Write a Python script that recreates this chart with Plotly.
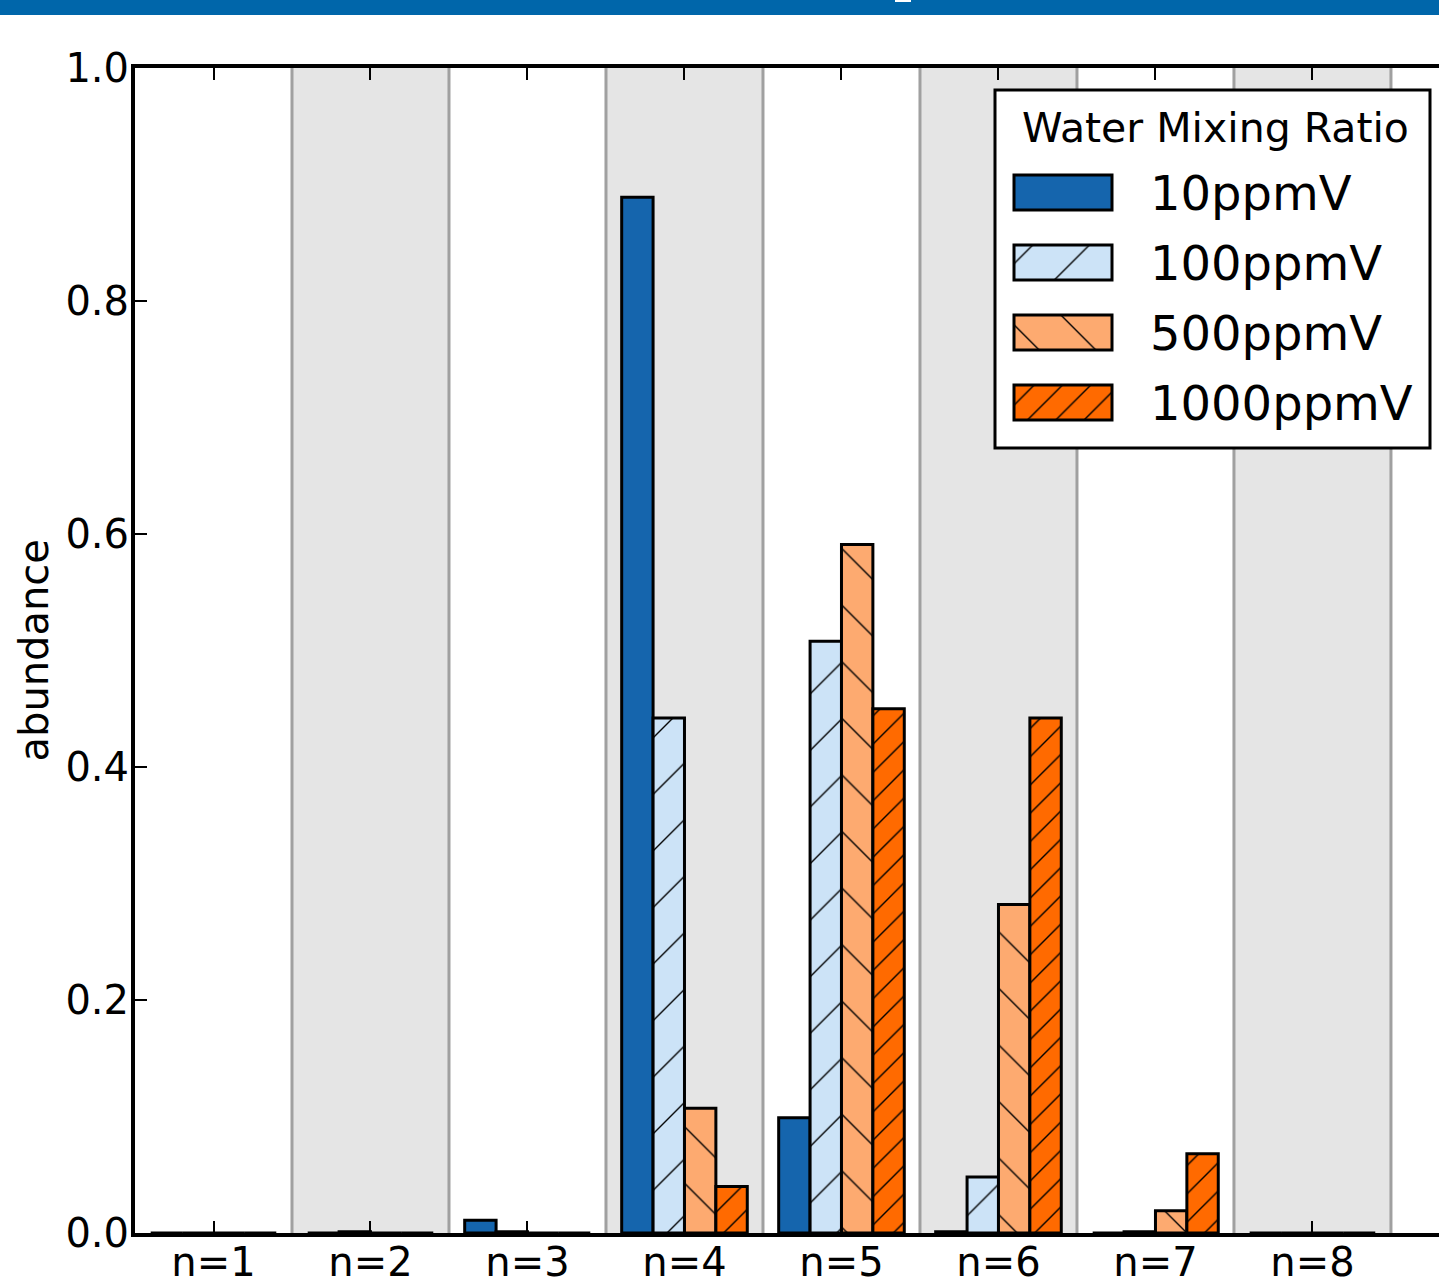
import plotly.graph_objects as go

categories = ["n=1", "n=2", "n=3", "n=4", "n=5", "n=6", "n=7", "n=8"]
series_names = ["10ppmV", "100ppmV", "500ppmV", "1000ppmV"]
v10 = [0.0, 0.0, 0.011, 0.889, 0.099, 0.001, 0.0, 0.0]
v100 = [0.0, 0.001, 0.001, 0.442, 0.508, 0.048, 0.001, 0.0]
v500 = [0.0, 0.0, 0.0, 0.107, 0.591, 0.282, 0.019, 0.0]
v1000 = [0.0, 0.0, 0.0, 0.040, 0.450, 0.442, 0.068, 0.0]
y_ticks = [0.0, 0.2, 0.4, 0.6, 0.8, 1.0]
legend_title = "Water Mixing Ratio"
y_title = "abundance"

values = [v10, v100, v500, v1000]
colors = ["#1565ad", "#cce3f7", "#fdaa70", "#ff6a00"]
patterns = [
    dict(shape=""),
    dict(shape="/", size=40, solidity=0.035, fgcolor="black", fgopacity=1),
    dict(shape="\\", size=40, solidity=0.035, fgcolor="black", fgopacity=1),
    dict(shape="/", size=20, solidity=0.07, fgcolor="black", fgopacity=1),
]

# Pixel geometry of the page
W, H = 1439, 1287
L, R, T, B = 135, 0, 68, 54
PW = W - L - R
PH = H - T - B

def px(x):
    return (x - L) / PW

def py(y):
    return (H - B - y) / PH

fig = go.Figure()
for name, vals, col, pat in zip(series_names, values, colors, patterns):
    fig.add_trace(go.Bar(
        x=categories, y=vals, name=name,
        marker=dict(color=col, line=dict(color="black", width=3), pattern=pat),
        showlegend=False,
    ))

# Custom legend patches drawn on an overlay axis expressed in pixels
leg_x0, leg_len, leg_h = 1014, 98, 35
leg_centers = [192.5, 262.5, 332.5, 402.5]
for name, col, pat, cy in zip(series_names, colors, patterns, leg_centers):
    fig.add_trace(go.Bar(
        x=[leg_len], y=[cy], base=[leg_x0], orientation="h",
        width=leg_h, offset=-leg_h / 2,
        marker=dict(color=col, line=dict(color="black", width=3), pattern=pat),
        xaxis="x2", yaxis="y2", showlegend=False, hoverinfo="skip",
    ))

n = len(categories)
x_range = [-0.5, 7.806]

shapes = []
# alternating background bands
for i in range(n):
    if i % 2 == 1:
        shapes.append(dict(type="rect", xref="x", yref="paper", x0=i - 0.5, x1=i + 0.5,
                           y0=0, y1=1, fillcolor="#e5e5e5", line=dict(width=0), layer="below"))
for i in range(n):
    shapes.append(dict(type="line", xref="x", yref="paper", x0=i + 0.5, x1=i + 0.5,
                       y0=0, y1=1, line=dict(color="#a0a0a0", width=3), layer="below"))
# legend box
shapes.append(dict(type="rect", xref="paper", yref="paper", x0=px(995), x1=px(1430),
                   y0=py(448), y1=py(90), fillcolor="white",
                   line=dict(color="black", width=3), layer="below"))
# top header band
shapes.append(dict(type="rect", xref="paper", yref="paper", x0=-0.2, x1=1.1,
                   y0=py(15), y1=py(-20), fillcolor="#0066aa", line=dict(width=0), layer="above"))
shapes.append(dict(type="rect", xref="paper", yref="paper", x0=px(895), x1=px(911),
                   y0=py(2), y1=py(-2), fillcolor="white", line=dict(width=0), layer="above"))

annotations = [
    dict(text=legend_title, x=1215, y=128, xref="x2", yref="y2", showarrow=False,
         xanchor="center", yanchor="middle", font=dict(size=41, color="black")),
]
for name, cy in zip(series_names, leg_centers):
    annotations.append(dict(text=name, x=1148, y=cy, xref="x2", yref="y2", showarrow=False,
                            xanchor="left", yanchor="middle", font=dict(size=48, color="black")))
annotations.append(dict(text=y_title, x=px(33), y=0.5, xref="paper", yref="paper",
                        showarrow=False, textangle=-90, xanchor="center", yanchor="middle",
                        font=dict(size=40, color="black")))

fig.update_layout(
    width=W, height=H,
    margin=dict(l=L, r=R, t=T, b=B, pad=0),
    paper_bgcolor="white", plot_bgcolor="white",
    font=dict(family="DejaVu Sans", color="black"),
    barmode="group", bargap=0.2, bargroupgap=0,
    shapes=shapes, annotations=annotations,
    xaxis=dict(
        type="category", range=x_range, showgrid=False, zeroline=False,
        showline=True, linecolor="black", linewidth=4, mirror="allticks",
        ticks="inside", ticklen=12, tickwidth=2, tickcolor="black",
        tickfont=dict(size=40), automargin=False, ticklabelstandoff=-9,
    ),
    yaxis=dict(
        range=[0, 1], tickvals=y_ticks, ticktext=[f"{v:.1f}" for v in y_ticks],
        showgrid=False, zeroline=False, showline=True, linecolor="black", linewidth=4,
        mirror=False, ticks="inside", ticklen=12, tickwidth=2, tickcolor="black",
        tickfont=dict(size=40), automargin=False, ticklabelstandoff=-6,
    ),
    xaxis2=dict(overlaying="x", anchor="y2", range=[L, W - R], visible=False, fixedrange=True),
    yaxis2=dict(overlaying="y", anchor="x2", range=[H - B, T], visible=False, fixedrange=True),
)

fig.write_html("out.html")
